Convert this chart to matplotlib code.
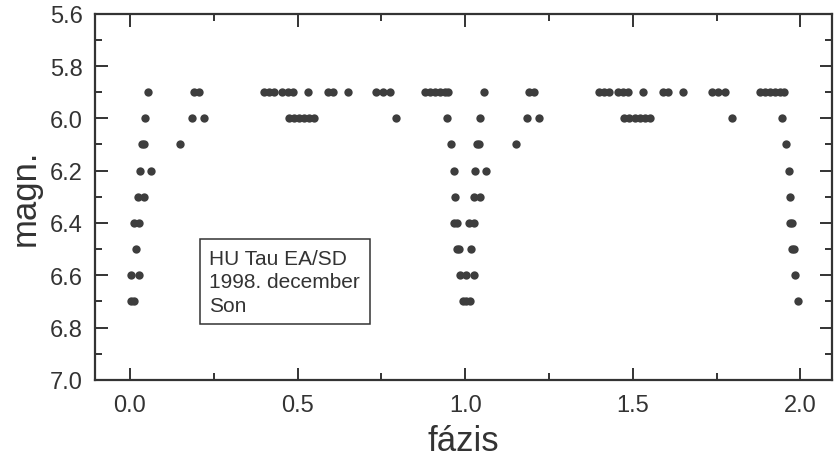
import numpy as np
import matplotlib.pyplot as plt
from matplotlib.ticker import MultipleLocator

# HU Tau phased light curve, 1998 December (phase 0..1, shown twice)
mag_levels = [5.9, 6.0, 6.1, 6.2, 6.3, 6.4, 6.5, 6.6, 6.7]
phases_at_level = {
    5.9: [0.055, 0.19, 0.205, 0.40, 0.415, 0.43, 0.455, 0.47, 0.485, 0.53,
          0.59, 0.605, 0.65, 0.735, 0.755, 0.775, 0.88, 0.895, 0.91, 0.925,
          0.94, 0.95],
    6.0: [0.045, 0.185, 0.22, 0.475, 0.49, 0.505, 0.52, 0.535, 0.55, 0.795,
          0.945],
    6.1: [0.035, 0.042, 0.15, 0.958],
    6.2: [0.03, 0.063, 0.966],
    6.3: [0.025, 0.043, 0.970],
    6.4: [0.012, 0.026, 0.968, 0.976],
    6.5: [0.018, 0.975, 0.982],
    6.6: [0.003, 0.027, 0.985],
    6.7: [0.003, 0.013, 0.993],
}
label_lines = ["HU Tau EA/SD", "1998. december", "Son"]

phase = np.array([p for m in mag_levels for p in phases_at_level[m]])
mag = np.array([m for m in mag_levels for p in phases_at_level[m]])

plt.rcParams["font.family"] = ["Liberation Sans", "DejaVu Sans"]
ink = "#333333"

fig = plt.figure(figsize=(8.34, 4.6), dpi=100)
ax = fig.add_axes([0.114, 0.172, 0.884, 0.796])

for shift in (0.0, 1.0):
    ax.plot(phase + shift, mag, "o", ms=6, color="#3d3d3d", mec="none")

ax.set_xlim(-0.104, 2.095)
ax.set_ylim(7.0, 5.6)
ax.xaxis.set_major_locator(MultipleLocator(0.5))
ax.xaxis.set_minor_locator(MultipleLocator(0.25))
ax.yaxis.set_major_locator(MultipleLocator(0.2))
ax.yaxis.set_minor_locator(MultipleLocator(0.1))
ax.xaxis.set_major_formatter(lambda v, pos: f"{v:.1f}")
ax.yaxis.set_major_formatter(lambda v, pos: f"{v:.1f}")

ax.tick_params(which="both", direction="in", top=True, right=True,
               color=ink, width=1.4, labelcolor=ink, labelsize=17)
ax.tick_params(which="major", length=9)
ax.tick_params(which="minor", length=5)
ax.tick_params(axis="x", which="major", pad=10)
ax.tick_params(axis="y", which="major", pad=9)
for s in ax.spines.values():
    s.set_linewidth(1.6)
    s.set_color(ink)

ax.set_xlabel("fázis", fontsize=25, color=ink, labelpad=6)
ax.set_ylabel("magn.", fontsize=25, color=ink, labelpad=6)

ax.text(0.237, 6.625, "\n".join(label_lines), fontsize=15, color=ink,
        va="center", ha="left", linespacing=1.3,
        bbox=dict(boxstyle="square,pad=0.45", fc="white", ec=ink, lw=1.1))

fig.savefig("out.png", dpi=100, facecolor="white")
